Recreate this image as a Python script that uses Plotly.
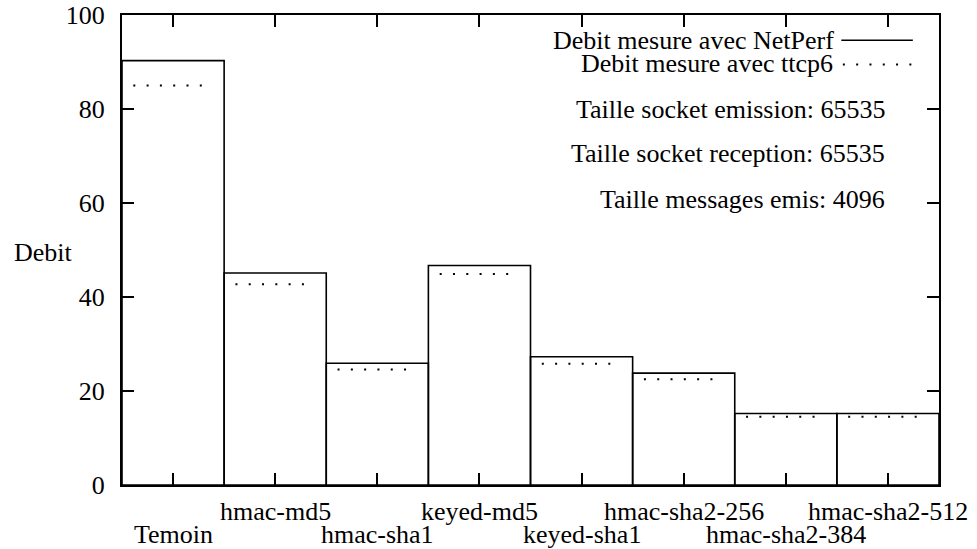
import plotly.graph_objects as go

categories = ["Temoin", "hmac-md5", "hmac-sha1", "keyed-md5", "keyed-sha1",
              "hmac-sha2-256", "hmac-sha2-384", "hmac-sha2-512"]
netperf = [90.3, 45.1, 25.9, 46.7, 27.3, 23.8, 15.2, 15.2]
ttcp6 = [85.0, 42.7, 24.6, 44.9, 25.8, 22.5, 14.5, 14.5]
y_ticks = [0, 20, 40, 60, 80, 100]
legend_names = ["Debit mesure avec NetPerf", "Debit mesure avec ttcp6"]
info_lines = ["Taille socket emission: 65535",
              "Taille socket reception: 65535",
              "Taille messages emis: 4096"]

FONT = "Liberation Serif"
FS = 26
DOT = "0px,11.3px,2px,0px"

fig = go.Figure()

xs = list(range(len(categories)))

# NetPerf boxes (solid outline)
fig.add_trace(go.Bar(
    x=xs, y=netperf, width=1,
    marker=dict(color="rgba(0,0,0,0)", line=dict(color="black", width=1.6)),
    name=legend_names[0], showlegend=False, hoverinfo="skip"))

# ttcp6 boxes (dotted top)
dx, dy = [], []
for i, v in enumerate(ttcp6):
    dx += [i - 0.5, i + 0.35, None]
    dy += [v, v, None]
fig.add_trace(go.Scatter(
    x=dx, y=dy, mode="lines",
    line=dict(color="black", width=2, dash=DOT),
    name=legend_names[1], showlegend=False, hoverinfo="skip"))

annotations = []
# staggered category labels
for i, c in enumerate(categories):
    annotations.append(dict(
        x=i, xref="x", y=(-0.1049 if i % 2 == 0 else -0.0563), yref="paper",
        text=c, showarrow=False, xanchor="center", yanchor="middle",
        font=dict(family=FONT, size=FS, color="black")))

# y title
annotations.append(dict(x=-0.0966, y=0.4954, xref="paper", yref="paper",
                        text="Debit", showarrow=False, xanchor="center",
                        yanchor="middle",
                        font=dict(family=FONT, size=FS, color="black")))

# legend texts
leg_y = [0.9462, 0.8962]
leg_x = [0.8743, 0.8722]
for name, lx, ly in zip(legend_names, leg_x, leg_y):
    annotations.append(dict(x=lx, y=ly, xref="paper", yref="paper", text=name,
                            showarrow=False, xanchor="right", yanchor="middle",
                            font=dict(family=FONT, size=FS, color="black")))

# info lines
for t, ly in zip(info_lines, [0.7995, 0.7059, 0.6081]):
    annotations.append(dict(x=0.9367, y=ly, xref="paper", yref="paper", text=t,
                            showarrow=False, xanchor="right", yanchor="middle",
                            font=dict(family=FONT, size=FS, color="black")))

shapes = [
    dict(type="line", xref="paper", yref="paper", x0=0.8804, x1=0.9680,
         y0=0.9462, y1=0.9462, line=dict(color="black", width=1.6)),
    dict(type="line", xref="paper", yref="paper", x0=0.8685, x1=0.970,
         y0=0.8945, y1=0.8945, line=dict(color="black", width=2, dash=DOT)),
]

axis_common = dict(showline=True, linecolor="black", linewidth=2, mirror="allticks",
                   ticks="inside", ticklen=12, tickwidth=1.6, tickcolor="black",
                   showgrid=False, zeroline=False, automargin=False)

fig.update_layout(
    width=977, height=549,
    margin=dict(l=122, r=38, t=15, b=64),
    paper_bgcolor="white", plot_bgcolor="white",
    font=dict(family=FONT, size=FS, color="black"),
    showlegend=False,
    annotations=annotations,
    shapes=shapes,
    xaxis=dict(range=[-0.5, 7.5], tickvals=xs, showticklabels=False, **axis_common),
    yaxis=dict(range=[0, 100], tickvals=y_ticks, ticklabelstandoff=10,
               tickfont=dict(family=FONT, size=FS, color="black"), **axis_common),
)

post = ("document.body.style.margin='0';"
        "document.body.style.overflow='hidden';"
        "var gd=document.getElementById('{plot_id}');"
        "gd.style.position='absolute';gd.style.left='0px';gd.style.top='0px';")

fig.write_html("out.html", post_script=post, config={"displayModeBar": False})
